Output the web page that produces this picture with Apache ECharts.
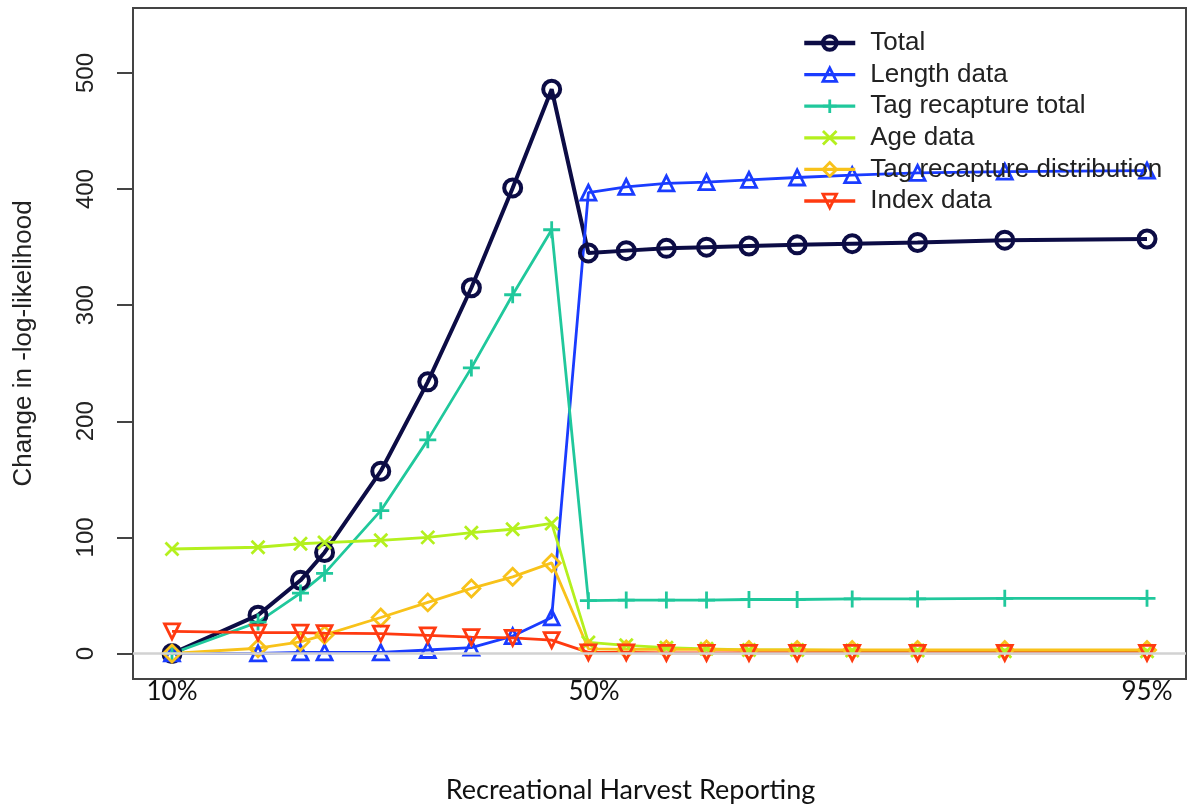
<!DOCTYPE html>
<html>
<head>
<meta charset="utf-8">
<script src="https://cdn.jsdelivr.net/npm/echarts@6/dist/echarts.min.js"></script>
<style>
  html, body { margin: 0; padding: 0; background: #fff; }
  #container { width: 1188px; height: 806px; }
</style>
</head>
<body>
<div id="container"></div>
<script>
// x positions of the scenarios (10% .. 95%)
var xPos = [10, 17.5, 21.2, 23.3, 28.2, 32.3, 36.1, 39.7, 43.1, 46.3, 49.6, 53.1, 56.6, 60.3, 64.5, 69.3, 75.0, 82.6, 95];
var xLabelAt = [10, 46.8, 95];
var xLabelText = ['10%', '50%', '95%'];
var yTicks = [0, 100, 200, 300, 400, 500];

var seriesNames = ['Total', 'Length data', 'Tag recapture total', 'Age data', 'Tag recapture distribution', 'Index data'];

var total = [0, 33, 63, 87, 157, 234, 315, 401, 486, 345, 347, 349, 350, 351, 352, 353, 354, 356, 357];
var lengthData = [0, 0, 1, 1, 1, 3, 5, 15, 31, 397, 402, 405, 406, 408, 410, 412, 414, 415, 416];
var tagTotal = [0, 27, 52, 69, 123, 184, 246, 309, 365, 45.5, 46, 46, 46, 46.5, 46.5, 47, 47, 47.5, 47.5];
var ageData = [90, 91.5, 94.5, 95.5, 97.5, 100, 104, 107, 112, 9.5, 7, 5, 4, 3, 3, 2.5, 2.5, 2, 2];
var tagDist = [0, 4.5, 10, 16, 31, 44, 56, 66, 78, 4, 3.5, 3.5, 3.5, 3, 3, 3, 3, 3, 3];
var indexData = [19, 18, 18, 17.5, 17, 15.5, 14, 13.5, 11.5, 1, 1, 0.5, 0.5, 0.5, 0.5, 0.5, 0.5, 0.5, 0.5];

var colors = ['#0c0c45', '#1a3cff', '#20c89c', '#b4f01e', '#f8c21a', '#ff3a10'];
var widths = [4, 2.8, 2.8, 2.8, 2.8, 2.8];

function pairs(ys) {
    var out = [];
    for (var i = 0; i < ys.length; i++) out.push([xPos[i], ys[i]]);
    return out;
}

function lineSeries(name, ys, color, symbol, size, width) {
    return {
        name: name,
        type: 'line',
        z: 3,
        data: pairs(ys),
        symbol: symbol,
        symbolSize: size,
        showAllSymbol: true,
        lineStyle: { color: color, width: width },
        itemStyle: { color: 'transparent', borderColor: color, borderWidth: width },
        emphasis: { disabled: true },
        animation: false
    };
}

// legend entries with the thicker R-style lines
var legendData = seriesNames.map(function (n, i) {
    return {
        name: n,
        lineStyle: { color: colors[i], width: widths[i] + 0.5 },
        itemStyle: { color: 'transparent', borderColor: colors[i], borderWidth: widths[i] }
    };
});

var dom = document.getElementById('container');
var myChart = echarts.init(dom);
var option = {
    backgroundColor: '#fff',
    grid: {
        left: 133, right: 2, top: 8, bottom: 127,
        outerBoundsMode: 'none',
        show: true, borderColor: '#444', borderWidth: 2
    },
    legend: {
        data: legendData,
        orient: 'vertical',
        left: 797,
        top: 25,
        itemWidth: 51,
        itemHeight: 17,
        itemGap: 5.6,
        textStyle: { fontFamily: 'Liberation Sans', fontSize: 26, color: '#222', padding: [0, 0, 0, 10] },
        selectedMode: false
    },
    xAxis: {
        type: 'value',
        min: 6.6,
        max: 98.4,
        name: 'Recreational Harvest Reporting',
        nameLocation: 'middle',
        nameGap: 98,
        nameTextStyle: { fontFamily: 'Lato', fontSize: 27, color: '#111', padding: [0, 58, 0, 0] },
        axisLine: { show: false },
        axisTick: { show: false },
        splitLine: { show: false },
        axisLabel: {
            customValues: xLabelAt,
            margin: 0,
            fontFamily: 'Lato',
            fontSize: 26,
            color: '#111',
            formatter: function (v) {
                var i = xLabelAt.indexOf(v);
                return i >= 0 ? xLabelText[i] : '';
            }
        }
    },
    yAxis: {
        type: 'value',
        min: -22,
        max: 556,
        name: 'Change in -log-likelihood',
        nameLocation: 'middle',
        nameRotate: 90,
        nameGap: 96,
        nameTextStyle: { fontFamily: 'Liberation Sans', fontSize: 26, color: '#222' },
        axisLine: { show: false },
        axisTick: { show: true, customValues: yTicks, length: 16, lineStyle: { color: '#444', width: 2 } },
        splitLine: { show: false },
        axisLabel: {
            customValues: yTicks,
            rotate: 90,
            margin: 35,
            fontFamily: 'Liberation Sans',
            fontSize: 24,
            color: '#222'
        }
    },
    series: [
        {
            name: 'zero',
            type: 'line',
            z: 1,
            data: [],
            markLine: {
                silent: true,
                symbol: 'none',
                label: { show: false },
                lineStyle: { color: '#d2d2d2', width: 2.5, type: 'solid' },
                data: [{ yAxis: 0 }]
            }
        },
        lineSeries(seriesNames[0], total, colors[0], 'circle', 17, widths[0]),
        lineSeries(seriesNames[1], lengthData, colors[1], 'triangle', 15, widths[1]),
        lineSeries(seriesNames[2], tagTotal, colors[2], 'path://M5,0L5,10M0,5L10,5', 17, widths[2]),
        lineSeries(seriesNames[3], ageData, colors[3], 'path://M0,0L10,10M0,10L10,0', 13, widths[3]),
        lineSeries(seriesNames[4], tagDist, colors[4], 'diamond', 17, widths[4]),
        lineSeries(seriesNames[5], indexData, colors[5], 'path://M0,0L10,0L5,8.66Z', 15, widths[5])
    ]
};
myChart.setOption(option, true);
</script>
</body>
</html>
